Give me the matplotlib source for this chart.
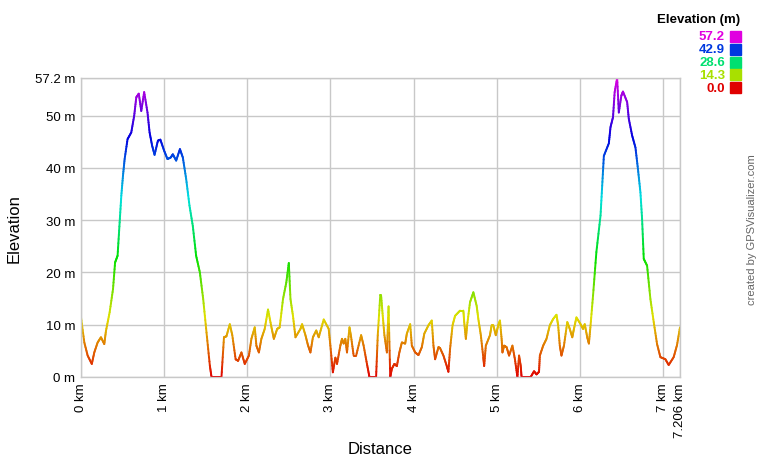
import numpy as np
import matplotlib
matplotlib.use("Agg")
import matplotlib.pyplot as plt
from matplotlib.collections import LineCollection
from matplotlib.colors import hsv_to_rgb

plt.rcParams['font.family'] = ['Liberation Sans', 'DejaVu Sans']

# profile: distance (km), elevation (m)
dist_km = [0.00, 0.04, 0.08, 0.13, 0.16, 0.20, 0.24, 0.28, 0.30, 0.345, 0.385, 0.41,
           0.44, 0.465, 0.485, 0.505, 0.525, 0.56, 0.605, 0.64, 0.665, 0.695, 0.725, 0.76,
           0.80, 0.825, 0.855, 0.885, 0.925, 0.955, 1.00, 1.04, 1.08, 1.105, 1.145, 1.19,
           1.225, 1.265, 1.305, 1.345, 1.385, 1.43, 1.47, 1.51, 1.55, 1.57, 1.69, 1.72,
           1.75, 1.79, 1.82, 1.86, 1.89, 1.93, 1.97, 2.02, 2.05, 2.09, 2.11, 2.14,
           2.17, 2.21, 2.25, 2.29, 2.32, 2.36, 2.39, 2.43, 2.47, 2.50, 2.52, 2.55,
           2.58, 2.64, 2.66, 2.70, 2.73, 2.76, 2.79, 2.83, 2.86, 2.92, 2.98, 3.00,
           3.03, 3.06, 3.08, 3.12, 3.14, 3.16, 3.18, 3.20, 3.23, 3.25, 3.28, 3.31,
           3.37, 3.40, 3.44, 3.47, 3.55, 3.57, 3.60, 3.61, 3.63, 3.65, 3.68, 3.70,
           3.72, 3.74, 3.77, 3.80, 3.83, 3.86, 3.90, 3.92, 3.96, 3.98, 4.02, 4.06,
           4.10, 4.13, 4.18, 4.22, 4.24, 4.26, 4.30, 4.32, 4.36, 4.40, 4.42, 4.44,
           4.47, 4.50, 4.56, 4.60, 4.61, 4.63, 4.645, 4.68, 4.72, 4.76, 4.78, 4.81,
           4.84, 4.85, 4.87, 4.92, 4.94, 4.96, 4.99, 5.02, 5.04, 5.06, 5.07, 5.09,
           5.12, 5.15, 5.19, 5.22, 5.25, 5.27, 5.29, 5.30, 5.41, 5.45, 5.48, 5.51,
           5.52, 5.56, 5.60, 5.64, 5.68, 5.72, 5.74, 5.76, 5.78, 5.81, 5.85, 5.88,
           5.91, 5.93, 5.96, 6.01, 6.04, 6.06, 6.09, 6.11, 6.13, 6.16, 6.20, 6.25,
           6.27, 6.29, 6.35, 6.37, 6.40, 6.42, 6.45, 6.47, 6.50, 6.52, 6.57, 6.59,
           6.63, 6.67, 6.70, 6.73, 6.75, 6.77, 6.81, 6.85, 6.89, 6.93, 6.97, 7.03,
           7.07, 7.13, 7.17, 7.206]
elev_m = [11.4, 6.6, 4.1, 2.5, 4.7, 6.6, 7.6, 6.3, 8.8, 12.4, 16.8, 21.9,
          23.2, 29.6, 34.7, 38.5, 41.7, 45.5, 46.8, 50.0, 53.5, 54.2, 50.9, 54.5,
          50.6, 46.8, 44.3, 42.5, 45.2, 45.4, 43.3, 41.7, 42.0, 42.6, 41.4, 43.6,
          42.0, 37.9, 32.8, 28.9, 23.2, 20.0, 14.9, 8.5, 2.2, 0.0, 0.0, 7.6,
          7.8, 10.1, 8.0, 3.4, 3.1, 4.7, 2.5, 4.1, 7.3, 9.5, 6.0, 4.7,
          7.3, 9.2, 12.9, 9.6, 7.3, 9.2, 9.5, 14.9, 18.1, 21.8, 14.9, 11.7,
          7.6, 9.2, 10.1, 8.0, 6.1, 4.7, 7.6, 8.9, 7.6, 11.0, 9.2, 6.0,
          0.9, 3.7, 2.5, 6.0, 7.3, 6.4, 7.3, 4.7, 9.5, 7.6, 4.1, 4.1,
          8.0, 6.0, 2.5, 0.0, 0.0, 8.0, 15.6, 15.6, 11.7, 8.0, 4.7, 13.5,
          0.0, 1.6, 2.5, 2.1, 4.7, 6.6, 6.4, 8.3, 10.1, 6.0, 4.7, 4.2,
          5.7, 8.3, 9.9, 10.8, 6.0, 3.4, 5.7, 5.5, 4.1, 2.1, 1.0, 5.4,
          9.9, 11.7, 12.7, 12.7, 10.5, 7.3, 9.9, 14.3, 16.2, 13.6, 11.1, 8.0,
          3.7, 2.1, 6.0, 8.0, 9.9, 9.9, 8.0, 9.9, 10.8, 7.3, 4.7, 6.0,
          5.7, 4.1, 6.0, 3.4, 0.0, 4.1, 2.1, 0.0, 0.0, 1.1, 0.5, 1.0,
          4.1, 6.0, 7.3, 9.9, 11.1, 11.9, 9.9, 6.0, 4.1, 6.0, 10.5, 9.2,
          7.6, 9.2, 11.4, 10.1, 9.2, 10.1, 7.6, 6.4, 9.9, 15.6, 23.9, 30.9,
          36.6, 42.3, 44.7, 47.8, 49.7, 54.5, 57.2, 50.6, 53.8, 54.6, 52.6, 49.4,
          46.2, 43.9, 39.8, 35.3, 30.2, 22.6, 21.3, 14.9, 10.5, 6.3, 3.8, 3.4,
          2.3, 3.8, 6.1, 9.5]

y_ticks = [0, 10, 20, 30, 40, 50, 57.2]
y_labels = ["0 m", "10 m", "20 m", "30 m", "40 m", "50 m", "57.2 m"]
x_ticks = [0, 1, 2, 3, 4, 5, 6, 7, 7.206]
x_labels = ["0 km", "1 km", "2 km", "3 km", "4 km", "5 km", "6 km", "7 km", "7.206 km"]
legend_vals = [57.2, 42.9, 28.6, 14.3, 0.0]

zmax = 57.2


def elev_color(z):
    h = np.clip(z / zmax, 0, 1) * 300.0 / 360.0
    return hsv_to_rgb([h, 1.0, 0.88])


fig = plt.figure(figsize=(7.6, 4.6), dpi=100)
ax = fig.add_axes([81 / 760, 1 - 378 / 460, 599 / 760, 299 / 460])

# split each segment into short pieces so the colour follows the height
x = np.array(dist_km)
y = np.array(elev_m)
segs, cols = [], []
for i in range(len(x) - 1):
    n = 8
    t = np.linspace(0, 1, n + 1)
    xs = x[i] + (x[i + 1] - x[i]) * t
    ys = y[i] + (y[i + 1] - y[i]) * t
    for j in range(n):
        segs.append([(xs[j], ys[j]), (xs[j + 1], ys[j + 1])])
        cols.append(elev_color((ys[j] + ys[j + 1]) / 2))
lc = LineCollection(segs, colors=cols, linewidths=1.4, capstyle='round')
ax.add_collection(lc)

ax.set_xlim(0, 7.206)
ax.set_ylim(0, zmax)
ax.set_xticks(x_ticks)
ax.set_xticklabels(x_labels, rotation=90, fontsize=9.5)
ax.set_yticks(y_ticks)
ax.set_yticklabels(y_labels, fontsize=9.5)
ax.tick_params(length=0, pad=4)
ax.grid(True, color='#c8c8c8', linewidth=1)
ax.set_axisbelow(True)
for s in ax.spines.values():
    s.set_color('#c8c8c8')
    s.set_linewidth(1)

ax.set_ylabel("Elevation", fontsize=12, labelpad=10)
fig.text(380 / 760, 1 - 450 / 460, "Distance", fontsize=12, ha='center', va='center')

# colour legend
fig.text(740 / 760, 1 - 20 / 460, "Elevation (m)", fontsize=9.5, fontweight='bold',
         ha='right', va='center')
for k, v in enumerate(legend_vals):
    yc = 1 - (37.5 + 12.8 * k) / 460
    c = elev_color(v)
    fig.text(725 / 760, yc, f"{v:.1f}", fontsize=9.5, fontweight='bold', color=c,
             ha='right', va='center')
    fig.patches.append(plt.Rectangle((730 / 760, yc - 5.5 / 460), 11 / 760, 11 / 460,
                                     transform=fig.transFigure, color=c))

fig.text(752 / 760, 1 - 230 / 460, "created by GPSVisualizer.com", fontsize=8,
         color='#666666', rotation=90, ha='center', va='center')

fig.savefig("out.png", dpi=100)
